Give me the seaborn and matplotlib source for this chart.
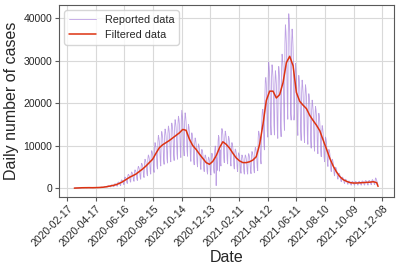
import numpy as np
import pandas as pd
import matplotlib
matplotlib.use("Agg")
import matplotlib.pyplot as plt
import matplotlib.dates as mdates
import seaborn as sns

# daily reported cases (thousands), one row per week starting Tuesday 2020-03-03
reported_k = [
    [0.00, 0.01, 0.01, 0.01, 0.01, 0.01, 0.02],
    [0.03, 0.03, 0.04, 0.05, 0.07, 0.06, 0.05],
    [0.09, 0.10, 0.09, 0.10, 0.08, 0.07, 0.09],
    [0.11, 0.10, 0.12, 0.10, 0.09, 0.08, 0.08],
    [0.13, 0.12, 0.11, 0.10, 0.10, 0.09, 0.10],
    [0.11, 0.12, 0.10, 0.09, 0.10, 0.09, 0.08],
    [0.12, 0.14, 0.13, 0.12, 0.11, 0.10, 0.11],
    [0.16, 0.17, 0.16, 0.15, 0.14, 0.13, 0.12],
    [0.22, 0.24, 0.21, 0.20, 0.19, 0.17, 0.16],
    [0.32, 0.35, 0.33, 0.31, 0.28, 0.25, 0.24],
    [0.50, 0.56, 0.54, 0.49, 0.42, 0.33, 0.29],
    [0.68, 0.77, 0.74, 0.69, 0.57, 0.41, 0.35],
    [0.92, 1.04, 1.00, 0.93, 0.76, 0.53, 0.45],
    [1.26, 1.43, 1.38, 1.27, 1.05, 0.72, 0.60],
    [1.72, 1.95, 1.87, 1.73, 1.43, 0.98, 0.83],
    [2.3, 2.6, 2.5, 2.3, 1.9, 1.3, 1.1],
    [2.9, 3.25, 3.1, 2.9, 2.4, 1.6, 1.4],
    [3.3, 3.8, 3.6, 3.3, 2.75, 1.9, 1.6],
    [3.8, 4.3, 4.1, 3.8, 3.1, 2.1, 1.8],
    [4.5, 5.1, 4.9, 4.5, 3.7, 2.5, 2.1],
    [5.2, 5.85, 5.6, 5.2, 4.3, 2.9, 2.5],
    [6.0, 6.8, 6.5, 6.0, 4.9, 3.4, 2.9],
    [6.9, 7.8, 7.5, 6.9, 5.7, 3.9, 3.3],
    [7.8, 8.8, 8.5, 7.8, 6.5, 4.4, 3.7],
    [9.4, 10.7, 10.2, 9.4, 7.8, 5.3, 4.5],
    [10.9, 12.4, 11.9, 10.9, 9.0, 6.2, 5.2],
    [11.7, 13.3, 12.7, 11.7, 9.7, 6.6, 5.6],
    [12.3, 13.9, 13.4, 12.3, 10.2, 7.0, 5.9],
    [12.9, 14.6, 14.0, 12.9, 10.6, 7.3, 6.2],
    [13.6, 15.3, 14.8, 13.6, 11.2, 7.7, 6.5],
    [14.3, 16.1, 15.5, 14.3, 11.8, 8.1, 6.8],
    [15.0, 16.9, 16.3, 15.0, 12.4, 8.5, 7.2],
    [15.9, 18.3, 17.2, 15.9, 13.1, 9.0, 7.6],
    [15.6, 17.7, 17.0, 15.6, 12.9, 8.8, 7.5],
    [13.2, 15.0, 14.4, 13.2, 10.9, 7.5, 6.3],
    [11.5, 13.0, 12.5, 11.5, 9.5, 6.5, 5.5],
    [10.5, 11.8, 11.4, 10.5, 8.6, 5.9, 5.0],
    [9.2, 10.4, 10.0, 9.2, 7.6, 5.2, 4.4],
    [8.1, 9.1, 8.8, 8.1, 6.7, 4.6, 3.9],
    [6.9, 7.8, 7.5, 6.9, 5.7, 3.9, 3.3],
    [6.4, 7.3, 7.0, 6.4, 5.3, 3.6, 3.1],
    [7.2, 8.2, 7.9, 7.2, 6.0, 4.1, 3.5],
    [8.7, 9.9, 9.5, 0.6, 7.2, 4.9, 4.2],
    [10.9, 12.4, 11.9, 4.0, 9.0, 6.2, 5.2],
    [12.5, 14.0, 13.6, 12.5, 10.4, 7.1, 6.0],
    [11.8, 13.4, 12.9, 11.8, 9.8, 6.7, 5.7],
    [10.8, 12.2, 11.7, 10.8, 8.9, 6.1, 5.2],
    [9.4, 10.7, 10.2, 9.4, 7.8, 5.3, 4.5],
    [8.2, 9.2, 8.9, 8.2, 6.7, 4.6, 3.9],
    [7.4, 8.3, 8.0, 7.4, 6.1, 4.2, 3.5],
    [6.9, 7.8, 7.5, 6.9, 5.7, 3.9, 3.3],
    [6.9, 7.8, 7.5, 6.9, 5.7, 3.9, 3.3],
    [7.1, 8.1, 7.8, 7.1, 5.9, 4.0, 3.4],
    [7.6, 8.6, 8.3, 7.6, 6.3, 4.3, 3.6],
    [8.5, 9.6, 9.3, 8.5, 7.0, 4.8, 4.1],
    [11.8, 13.4, 12.9, 11.8, 9.8, 6.7, 5.7],
    [14.0, 17.0, 18.5, 18.5, 15.5, 10.5, 9.0],
    [21.5, 25.5, 26.0, 24.5, 20.0, 13.5, 12.0],
    [26.2, 29.6, 28.5, 26.2, 21.7, 14.8, 12.5],
    [26.2, 29.0, 28.0, 26.0, 21.7, 14.8, 12.5],
    [24.4, 27.6, 26.5, 24.4, 20.1, 13.8, 11.7],
    [25.3, 28.6, 27.5, 25.3, 20.9, 14.3, 12.1],
    [28.0, 31.5, 30.5, 28.5, 23.6, 16.1, 13.6],
    [33.9, 38.4, 36.9, 33.9, 28.0, 19.2, 16.2],
    [36.5, 41.0, 39.5, 36.5, 30.0, 17.5, 16.0],
    [34.0, 37.4, 36.0, 33.1, 27.4, 16.0, 17.7],
    [25.9, 29.3, 28.1, 25.9, 21.4, 14.6, 12.4],
    [23.5, 26.5, 25.5, 23.5, 19.4, 13.3, 11.2],
    [22.4, 25.4, 24.4, 22.4, 18.5, 12.7, 10.7],
    [21.5, 24.3, 23.4, 21.5, 17.8, 12.2, 10.3],
    [19.7, 22.2, 21.4, 19.7, 16.2, 11.1, 9.4],
    [18.3, 20.7, 19.9, 18.3, 15.1, 10.3, 8.7],
    [17.0, 19.2, 18.5, 17.0, 14.1, 9.6, 8.1],
    [15.5, 17.6, 16.9, 15.5, 12.8, 8.8, 7.4],
    [13.0, 14.7, 14.1, 13.0, 10.7, 7.3, 6.2],
    [10.6, 12.0, 11.5, 10.6, 8.7, 6.0, 5.1],
    [8.1, 9.1, 8.8, 8.1, 6.7, 4.6, 3.9],
    [6.0, 6.8, 6.5, 6.0, 4.9, 3.4, 2.9],
    [4.4, 4.9, 4.8, 4.4, 3.6, 2.5, 2.1],
    [3.1, 3.5, 3.4, 3.1, 2.6, 1.8, 1.5],
    [2.3, 2.6, 2.5, 2.3, 1.9, 1.3, 1.1],
    [1.8, 2.1, 2.0, 1.8, 1.5, 1.0, 0.9],
    [1.5, 1.7, 1.6, 1.5, 1.2, 0.8, 0.7],
    [1.4, 1.6, 1.5, 1.4, 1.1, 0.8, 0.7],
    [1.4, 1.6, 1.5, 1.4, 1.1, 0.8, 0.7],
    [1.4, 1.6, 1.6, 1.4, 1.2, 0.8, 0.7],
    [1.5, 1.7, 1.6, 1.5, 1.2, 0.8, 0.7],
    [1.6, 1.8, 1.7, 1.6, 1.3, 0.9, 0.7],
    [1.6, 1.8, 1.8, 1.6, 1.3, 0.9, 0.8],
    [1.7, 2.0, 1.9, 1.7, 1.4, 1.0, 0.8],
    [1.9, 2.4, 2.2, 1.8, 1.5, 1.0, 0.9],
]

# filtered curve (thousands): start, weekly centres, end
filtered_k = [0.0, 0.02, 0.05, 0.09, 0.10, 0.11, 0.10, 0.12, 0.15, 0.2, 0.3,
              0.45, 0.6, 0.8, 1.1, 1.5, 2.0, 2.5, 2.9, 3.3, 3.9, 4.5, 5.2, 6.0,
              6.8, 8.2, 9.5, 10.2, 10.7, 11.2, 11.8, 12.4, 13.0, 13.8, 13.6,
              11.5, 10.0, 9.1, 8.0, 7.0, 6.0, 5.6, 6.3, 7.6, 9.5, 10.9, 10.3,
              9.4, 8.2, 7.1, 6.4, 6.0, 6.0, 6.2, 6.6, 7.4, 10.3, 15.0, 20.6,
              22.8, 22.8, 21.2, 22.0, 24.8, 29.5, 31.0, 28.8, 22.5, 20.4, 19.5,
              18.7, 17.1, 15.9, 14.8, 13.5, 11.3, 9.2, 7.0, 5.2, 3.8, 2.7, 2.0,
              1.6, 1.3, 1.2, 1.2, 1.25, 1.3, 1.35, 1.4, 1.5, 1.3, 0.4]

tick_dates = pd.date_range("2020-02-17", "2021-12-08", freq="60D")

reported = np.array(reported_k).ravel() * 1000
rep_df = pd.DataFrame({
    "date": pd.date_range("2020-03-03", periods=len(reported), freq="D"),
    "cases": reported,
})
centres = list(pd.date_range("2020-03-06", periods=len(reported_k), freq="7D"))
filt_dates = [pd.Timestamp("2020-03-03")] + centres + [rep_df["date"].iloc[-1]]
filt_df = pd.DataFrame({"date": filt_dates, "cases": np.array(filtered_k) * 1000})

sns.set_style("whitegrid", {"axes.edgecolor": ".35", "grid.color": ".85",
                            "xtick.bottom": True, "ytick.left": True})
plt.rcParams["font.family"] = ["Liberation Sans", "DejaVu Sans"]

fig = plt.figure(figsize=(3.99, 2.66), dpi=100)
ax = fig.add_axes([0.148, 0.26, 0.839, 0.721])

sns.lineplot(data=rep_df, x="date", y="cases", ax=ax, color="#9b6fd6",
             alpha=0.65, linewidth=0.6, label="Reported data")
sns.lineplot(data=filt_df, x="date", y="cases", ax=ax, color="#dd3311",
             linewidth=1.1, label="Filtered data")

ax.set_xlim(pd.Timestamp("2020-01-31"), pd.Timestamp("2022-01-01"))
ax.set_xticks(tick_dates)
ax.xaxis.set_major_formatter(mdates.DateFormatter("%Y-%m-%d"))
for lab in ax.get_xticklabels():
    lab.set_rotation(45)
    lab.set_ha("right")
    lab.set_rotation_mode("anchor")
ax.tick_params(labelsize=7.5, length=3, width=0.8, color=".35", pad=2)
ax.set_xlabel("Date", fontsize=11.5, labelpad=1)
ax.set_ylabel("Daily number of cases", fontsize=11.5, labelpad=3)
ax.legend(loc="upper left", fontsize=7.8, frameon=True, borderpad=0.4,
          handlelength=2.5)

fig.savefig("out.png", dpi=100)
